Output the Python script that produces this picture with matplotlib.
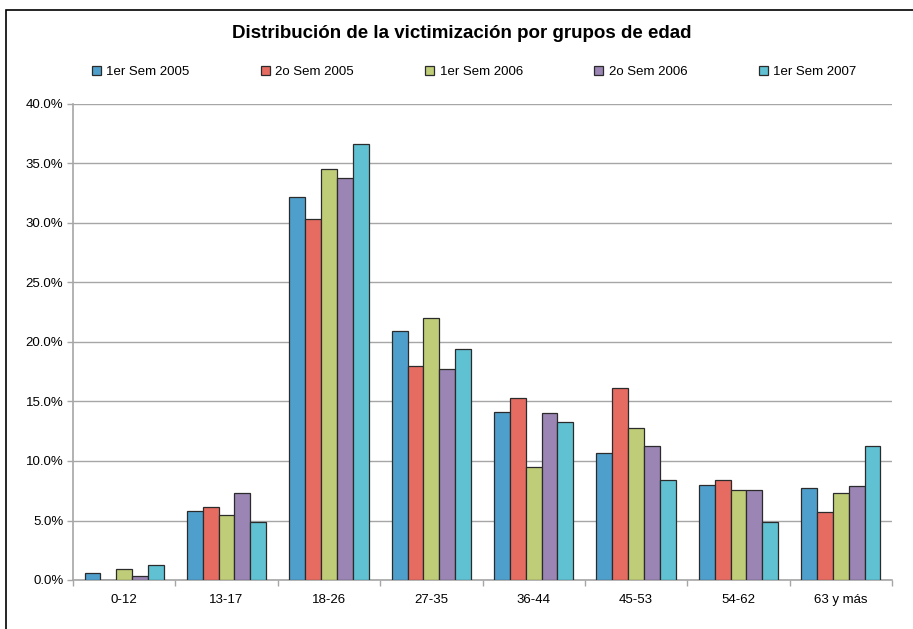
import numpy as np
import matplotlib
matplotlib.use("Agg")
import matplotlib.pyplot as plt
from matplotlib.patches import Rectangle
from matplotlib.ticker import FuncFormatter, MultipleLocator

plt.rcParams['font.family'] = ['Liberation Sans', 'DejaVu Sans']

groups = ["0-12", "13-17", "18-26", "27-35", "36-44", "45-53", "54-62", "63 y más"]
series = ["1er Sem 2005", "2o Sem 2005", "1er Sem 2006", "2o Sem 2006", "1er Sem 2007"]

sem1_2005 = [0.6, 5.8, 32.2, 20.9, 14.1, 10.7, 8.0, 7.7]
sem2_2005 = [0.0, 6.1, 30.3, 18.0, 15.3, 16.1, 8.4, 5.7]
sem1_2006 = [0.9, 5.5, 34.5, 22.0, 9.5, 12.8, 7.6, 7.3]
sem2_2006 = [0.3, 7.3, 33.8, 17.7, 14.0, 11.3, 7.6, 7.9]
sem1_2007 = [1.3, 4.9, 36.6, 19.4, 13.3, 8.4, 4.9, 11.3]

colors = ["#4F9FCC", "#E66C62", "#C0CD78", "#9B85B4", "#60C1D2"]

values = [sem1_2005, sem2_2005, sem1_2006, sem2_2006, sem1_2007]

fig = plt.figure(figsize=(9.13, 6.29), dpi=100)
ax = fig.add_axes([73 / 913, 49 / 629, (892 - 73) / 913, (580 - 104) / 629])

x = np.arange(len(groups))
width = 0.155
for i, (vals, name) in enumerate(zip(values, series)):
    ax.bar(x + (i - 2) * width, vals, width, color=colors[i], label=name,
           edgecolor="#2b2b2b", linewidth=0.9, zorder=3)

ax.set_xlim(-0.5, len(groups) - 0.5)
ax.set_ylim(0, 40)
ax.yaxis.set_major_locator(MultipleLocator(5))
ax.yaxis.set_major_formatter(FuncFormatter(lambda v, p: f"{v:.1f}%"))
ax.grid(axis="y", color="#a6a6a6", linewidth=1.0, zorder=0)

ax.set_xticks(x)
ax.set_xticklabels(groups)
ax.set_xticks(np.arange(-0.5, len(groups)), minor=True)
ax.tick_params(axis="x", which="major", length=0, pad=10, labelsize=9.5, colors="#000000")
ax.tick_params(axis="x", which="minor", length=4, color="#a6a6a6", width=1)
ax.tick_params(axis="y", length=4, color="#a6a6a6", width=1, labelsize=9.5, pad=3)

for side in ["top", "right"]:
    ax.spines[side].set_visible(False)
for side in ["left", "bottom"]:
    ax.spines[side].set_color("#a6a6a6")
    ax.spines[side].set_linewidth(1.2)

fig.text(462 / 913, 1 - 33 / 629, "Distribución de la victimización por grupos de edad",
         ha="center", va="center", fontsize=13.5, fontweight="bold")

fig.legend(loc="center", bbox_to_anchor=(474 / 913, 1 - 72 / 629), ncol=5, frameon=False,
           fontsize=9.5, handlelength=0.7, handleheight=0.7, handletextpad=0.4,
           columnspacing=5.4)

# outer chart frame
fig.patches.append(Rectangle((6 / 913, -0.05), 1.0, 1 - 10 / 629 + 0.05,
                             transform=fig.transFigure, fill=False,
                             edgecolor="black", linewidth=1.2))

fig.savefig("out.png", dpi=100)
